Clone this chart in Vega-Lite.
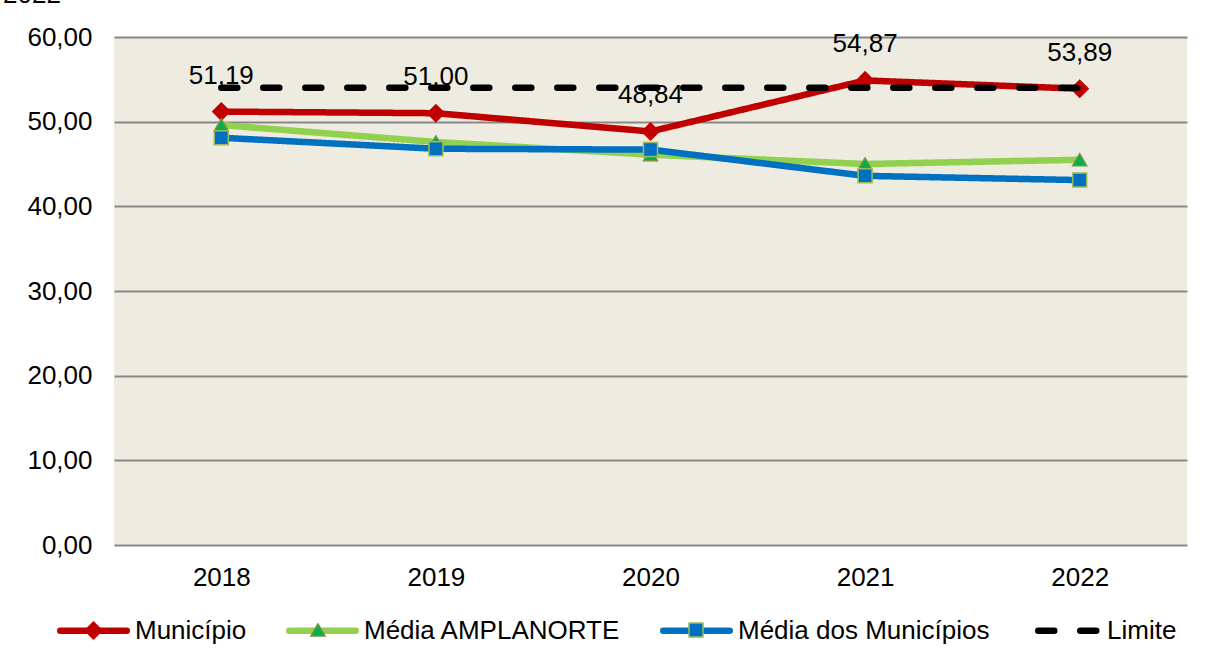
{
  "$schema": "https://vega.github.io/schema/vega-lite/v6.json",
  "width": 1073,
  "height": 508,
  "autosize": {"type": "none"},
  "padding": {"left": 114, "top": 37, "right": 18, "bottom": 118},
  "background": "white",
  "title": {"text": "2022", "anchor": "start", "frame": "group", "fontSize": 26, "font": "Liberation Sans", "fontWeight": "normal", "color": "#000000", "dx": -111, "offset": 16, "baseline": "top"},
  "config": {
    "locale": {"number": {"decimal": ",", "thousands": ".", "grouping": [3], "currency": ["R$", ""]}},
    "view": {"fill": "#EEECE1", "stroke": null},
    "font": "Liberation Sans"
  },
  "data": {
    "values": [
      {"ano": "2018", "serie": "Município", "marcador": "Município", "valor": 51.19},
      {"ano": "2019", "serie": "Município", "marcador": "Município", "valor": 51.00},
      {"ano": "2020", "serie": "Município", "marcador": "Município", "valor": 48.84},
      {"ano": "2021", "serie": "Município", "marcador": "Município", "valor": 54.87},
      {"ano": "2022", "serie": "Município", "marcador": "Município", "valor": 53.89},
      {"ano": "2018", "serie": "Média AMPLANORTE", "marcador": "Média AMPLANORTE", "valor": 49.6},
      {"ano": "2019", "serie": "Média AMPLANORTE", "marcador": "Média AMPLANORTE", "valor": 47.6},
      {"ano": "2020", "serie": "Média AMPLANORTE", "marcador": "Média AMPLANORTE", "valor": 46.1},
      {"ano": "2021", "serie": "Média AMPLANORTE", "marcador": "Média AMPLANORTE", "valor": 45.0},
      {"ano": "2022", "serie": "Média AMPLANORTE", "marcador": "Média AMPLANORTE", "valor": 45.5},
      {"ano": "2018", "serie": "Média dos Municípios", "marcador": "Média dos Municípios", "valor": 48.1},
      {"ano": "2019", "serie": "Média dos Municípios", "marcador": "Média dos Municípios", "valor": 46.8},
      {"ano": "2020", "serie": "Média dos Municípios", "marcador": "Média dos Municípios", "valor": 46.7},
      {"ano": "2021", "serie": "Média dos Municípios", "marcador": "Média dos Municípios", "valor": 43.6},
      {"ano": "2022", "serie": "Média dos Municípios", "marcador": "Média dos Municípios", "valor": 43.1},
      {"ano": "2018", "serie": "Limite", "marcador": "Limite", "valor": 54},
      {"ano": "2019", "serie": "Limite", "marcador": "Limite", "valor": 54},
      {"ano": "2020", "serie": "Limite", "marcador": "Limite", "valor": 54},
      {"ano": "2021", "serie": "Limite", "marcador": "Limite", "valor": 54},
      {"ano": "2022", "serie": "Limite", "marcador": "Limite", "valor": 54}
    ]
  },
  "encoding": {
    "x": {
      "field": "ano", "type": "ordinal",
      "scale": {"type": "point", "padding": 0.5},
      "axis": {"title": null, "labelAngle": 0, "labelFontSize": 26, "labelColor": "#000000", "ticks": false, "domain": false, "labelPadding": 19, "grid": false}
    },
    "y": {
      "field": "valor", "type": "quantitative",
      "scale": {"domain": [0, 60], "nice": false},
      "axis": {"title": null, "values": [0, 10, 20, 30, 40, 50, 60], "format": ".2f", "labelFontSize": 26, "labelColor": "#000000", "ticks": false, "domain": false, "labelPadding": 22, "grid": true, "gridColor": "#878787", "gridWidth": 2}
    }
  },
  "resolve": {
    "scale": {"shape": "independent", "fill": "independent", "stroke": "independent"},
    "legend": {"shape": "independent", "fill": "independent", "stroke": "independent"}
  },
  "layer": [
    {
      "transform": [{"filter": "datum.serie !== 'Limite'"}],
      "mark": {"type": "line", "strokeWidth": 6.5, "strokeCap": "round", "strokeJoin": "round"},
      "encoding": {
        "color": {
          "field": "serie", "type": "nominal",
          "scale": {"domain": ["Município", "Média AMPLANORTE", "Média dos Municípios", "Limite"], "range": ["#C00000", "#92D050", "#0070C0", "#000000"]},
          "legend": {"title": null, "orient": "none", "legendX": -57, "legendY": 557, "direction": "horizontal", "symbolSize": 4422, "symbolStrokeWidth": 6.5, "symbolType": "stroke", "labelFontSize": 26, "labelColor": "#000000", "labelOffset": 5, "labelLimit": 500, "columnPadding": 29, "padding": 0,
            "encode": {"symbols": {"update": {"strokeCap": {"value": "round"}, "strokeDash": {"signal": "datum.value === 'Limite' ? [19, 24] : [1, 0]"}, "strokeDashOffset": {"signal": "datum.value === 'Limite' ? -6 : 0"}}}}}
        },
        "strokeDash": {
          "field": "serie", "type": "nominal",
          "scale": {"domain": ["Município", "Média AMPLANORTE", "Média dos Municípios", "Limite"], "range": [[1, 0], [1, 0], [1, 0], [16, 26]]},
          "legend": {"title": null, "orient": "none", "legendX": -57, "legendY": 557, "direction": "horizontal", "symbolSize": 4422, "symbolStrokeWidth": 6.5, "symbolType": "stroke", "labelFontSize": 26, "labelColor": "#000000", "labelOffset": 5, "labelLimit": 500, "columnPadding": 29, "padding": 0,
            "encode": {"symbols": {"update": {"strokeCap": {"value": "round"}, "strokeDash": {"signal": "datum.value === 'Limite' ? [19, 24] : [1, 0]"}, "strokeDashOffset": {"signal": "datum.value === 'Limite' ? -6 : 0"}}}}}
        }
      }
    },
    {
      "transform": [{"filter": "datum.serie === 'Município'"}],
      "mark": {"type": "point", "filled": true, "size": 289, "strokeWidth": 1.5, "opacity": 1},
      "encoding": {
        "shape": {"field": "marcador", "type": "nominal", "scale": {"range": ["diamond"]},
          "legend": {"title": null, "orient": "none", "legendX": -30, "legendY": 584, "symbolSize": 289, "symbolStrokeWidth": 1.5, "labelExpr": "''", "labelFontSize": 1, "padding": 0}},
        "fill": {"field": "marcador", "type": "nominal", "scale": {"range": ["#C00000"]},
          "legend": {"title": null, "orient": "none", "legendX": -30, "legendY": 584, "symbolSize": 289, "symbolStrokeWidth": 1.5, "labelExpr": "''", "labelFontSize": 1, "padding": 0}},
        "stroke": {"field": "marcador", "type": "nominal", "scale": {"range": ["#C00000"]},
          "legend": {"title": null, "orient": "none", "legendX": -30, "legendY": 584, "symbolSize": 289, "symbolStrokeWidth": 1.5, "labelExpr": "''", "labelFontSize": 1, "padding": 0}}
      }
    },
    {
      "transform": [{"filter": "datum.serie === 'Média AMPLANORTE'"}],
      "mark": {"type": "point", "filled": true, "size": 196, "strokeWidth": 1.5, "opacity": 1},
      "encoding": {
        "shape": {"field": "marcador", "type": "nominal", "scale": {"range": ["triangle-up"]},
          "legend": {"title": null, "orient": "none", "legendX": 196, "legendY": 585, "symbolSize": 196, "symbolStrokeWidth": 1.5, "labelExpr": "''", "labelFontSize": 1, "padding": 0}},
        "fill": {"field": "marcador", "type": "nominal", "scale": {"range": ["#00B050"]},
          "legend": {"title": null, "orient": "none", "legendX": 196, "legendY": 585, "symbolSize": 196, "symbolStrokeWidth": 1.5, "labelExpr": "''", "labelFontSize": 1, "padding": 0}},
        "stroke": {"field": "marcador", "type": "nominal", "scale": {"range": ["#77933C"]},
          "legend": {"title": null, "orient": "none", "legendX": 196, "legendY": 585, "symbolSize": 196, "symbolStrokeWidth": 1.5, "labelExpr": "''", "labelFontSize": 1, "padding": 0}}
      }
    },
    {
      "transform": [{"filter": "datum.serie === 'Média dos Municípios'"}],
      "mark": {"type": "point", "filled": true, "size": 196, "strokeWidth": 1.5, "opacity": 1},
      "encoding": {
        "shape": {"field": "marcador", "type": "nominal", "scale": {"range": ["square"]},
          "legend": {"title": null, "orient": "none", "legendX": 574, "legendY": 585, "symbolSize": 196, "symbolStrokeWidth": 1.5, "labelExpr": "''", "labelFontSize": 1, "padding": 0}},
        "fill": {"field": "marcador", "type": "nominal", "scale": {"range": ["#0070C0"]},
          "legend": {"title": null, "orient": "none", "legendX": 574, "legendY": 585, "symbolSize": 196, "symbolStrokeWidth": 1.5, "labelExpr": "''", "labelFontSize": 1, "padding": 0}},
        "stroke": {"field": "marcador", "type": "nominal", "scale": {"range": ["#9BBB59"]},
          "legend": {"title": null, "orient": "none", "legendX": 574, "legendY": 585, "symbolSize": 196, "symbolStrokeWidth": 1.5, "labelExpr": "''", "labelFontSize": 1, "padding": 0}}
      }
    },
    {
      "transform": [{"filter": "datum.serie === 'Limite'"}],
      "mark": {"type": "line", "strokeWidth": 6.5, "strokeCap": "round"},
      "encoding": {
        "color": {"field": "serie", "type": "nominal"},
        "strokeDash": {"field": "serie", "type": "nominal"}
      }
    },
    {
      "transform": [{"filter": "datum.serie === 'Município'"}],
      "mark": {"type": "text", "fontSize": 26, "dy": -36, "fill": "#000000", "font": "Liberation Sans"},
      "encoding": {
        "text": {"field": "valor", "type": "quantitative", "format": ".2f"}
      }
    }
  ]
}
